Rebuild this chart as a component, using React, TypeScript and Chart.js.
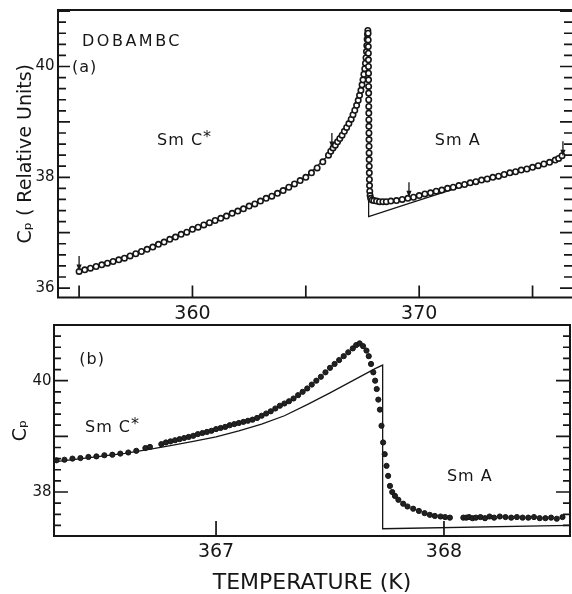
import React, { useEffect, useRef } from 'react';
import { Chart, registerables } from 'chart.js';

Chart.register(...registerables);

const FONT = "'DejaVu Sans', 'Noto Sans', sans-serif";
const INK = '#161616';

type Pt = [number, number];

// ---------- Panel (a): wide range ----------
const panelAData: Pt[] = [
  [355.0, 36.30], [355.25, 36.33], [355.5, 36.36], [355.75, 36.39], [356.0, 36.42], [356.25, 36.45], [356.5, 36.48], [356.75, 36.51],
  [357.0, 36.54], [357.25, 36.58], [357.5, 36.62], [357.75, 36.66], [358.0, 36.70], [358.25, 36.74], [358.5, 36.79], [358.75, 36.83],
  [359.0, 36.88], [359.25, 36.92], [359.5, 36.97], [359.75, 37.01], [360.0, 37.06], [360.25, 37.10], [360.5, 37.14], [360.75, 37.18],
  [361.0, 37.22], [361.25, 37.26], [361.5, 37.30], [361.75, 37.35], [362.0, 37.39], [362.25, 37.43], [362.5, 37.48], [362.75, 37.52],
  [363.0, 37.57], [363.25, 37.62], [363.5, 37.66], [363.75, 37.71], [364.0, 37.76], [364.25, 37.82], [364.5, 37.88], [364.75, 37.94],
  [365.0, 38.00], [365.25, 38.08], [365.5, 38.17], [365.75, 38.28], [366.0, 38.40], [366.1, 38.47], [366.2, 38.53], [366.3, 38.58],
  [366.4, 38.64], [366.5, 38.70], [366.6, 38.76], [366.7, 38.83], [366.8, 38.90], [366.9, 38.97], [367.0, 39.05], [367.08, 39.13],
  [367.16, 39.21], [367.24, 39.30], [367.31, 39.39], [367.37, 39.48], [367.43, 39.57], [367.48, 39.67], [367.52, 39.76], [367.56, 39.86],
  [367.6, 39.96], [367.63, 40.06], [367.655, 40.16], [367.675, 40.27], [367.69, 40.38], [367.705, 40.49], [367.72, 40.58], [367.735, 40.65],
  [367.748, 40.60], [367.752, 40.48], [367.756, 40.36], [367.759, 40.24], [367.762, 40.12], [367.764, 40.00], [367.766, 39.88], [367.768, 39.76],
  [367.77, 39.64], [367.772, 39.52], [367.774, 39.40], [367.776, 39.28], [367.778, 39.16], [367.78, 39.04], [367.782, 38.92], [367.784, 38.80],
  [367.786, 38.68], [367.788, 38.56], [367.79, 38.44], [367.793, 38.32], [367.796, 38.20], [367.8, 38.08], [367.804, 37.96], [367.81, 37.85],
  [367.82, 37.75], [367.835, 37.67], [367.86, 37.62], [367.92, 37.59], [368.0, 37.58], [368.12, 37.57], [368.25, 37.56], [368.4, 37.56],
  [368.55, 37.56], [368.75, 37.57], [369.0, 37.58], [369.25, 37.60], [369.5, 37.62], [369.75, 37.64], [370.0, 37.67], [370.25, 37.70],
  [370.5, 37.72], [370.75, 37.75], [371.0, 37.77], [371.25, 37.80], [371.5, 37.82], [371.75, 37.85], [372.0, 37.87], [372.25, 37.90],
  [372.5, 37.92], [372.75, 37.95], [373.0, 37.97], [373.25, 38.00], [373.5, 38.02], [373.75, 38.05], [374.0, 38.08], [374.25, 38.10],
  [374.5, 38.13], [374.75, 38.15], [375.0, 38.18], [375.25, 38.21], [375.5, 38.24], [375.75, 38.27], [376.0, 38.31], [376.15, 38.34],
  [376.3, 38.39],
];

const panelAFit: Pt[] = [
  [355.0, 36.30], [358.0, 36.70], [361.0, 37.22], [363.0, 37.57], [365.0, 38.00], [366.0, 38.40], [367.0, 39.05],
  [367.5, 39.72], [367.7, 40.40], [367.77, 40.55], [367.77, 37.29], [369.56, 37.53], [372.0, 37.85], [374.0, 38.06], [376.3, 38.37],
];

const panelAArrows: Pt[] = [[355.0, 36.31], [366.15, 38.53], [369.55, 37.64], [376.34, 38.38]];
const panelAXLabels = [360, 370];
const panelAYLabels = [36, 38, 40];
const panelANoteText = ['DOBAMBC', '(a)', 'Sm C', 'Sm A'];
const panelANoteSup = ['', '', '*', ''];
const panelANoteT = [355.13, 354.69, 358.44, 370.69];
const panelANoteCp = [40.48, 40.01, 38.68, 38.68];

// ---------- Panel (b): close-up ----------
const panelBData: Pt[] = [
  [366.300, 38.57], [366.335, 38.58], [366.370, 38.60], [366.405, 38.61], [366.440, 38.63], [366.475, 38.64], [366.510, 38.66],
  [366.545, 38.67], [366.580, 38.69], [366.615, 38.71], [366.650, 38.74], [366.690, 38.79], [366.710, 38.81], [366.760, 38.86],
  [366.780, 38.89], [366.800, 38.91], [366.820, 38.93], [366.840, 38.95], [366.860, 38.97], [366.880, 38.99], [366.900, 39.01],
  [366.920, 39.04], [366.940, 39.06], [366.960, 39.08], [366.980, 39.10], [367.000, 39.13], [367.020, 39.15], [367.040, 39.17],
  [367.060, 39.20], [367.080, 39.22], [367.100, 39.24], [367.120, 39.26], [367.140, 39.28], [367.160, 39.30], [367.180, 39.33],
  [367.200, 39.37], [367.220, 39.41], [367.240, 39.45], [367.260, 39.50], [367.280, 39.55], [367.300, 39.59], [367.320, 39.63],
  [367.340, 39.68], [367.360, 39.74], [367.380, 39.80], [367.400, 39.86], [367.420, 39.93], [367.440, 40.00], [367.460, 40.07],
  [367.480, 40.15], [367.500, 40.23], [367.520, 40.30], [367.540, 40.37], [367.560, 40.44], [367.580, 40.51], [367.600, 40.58],
  [367.615, 40.64], [367.630, 40.67], [367.645, 40.62], [367.660, 40.54], [367.670, 40.44], [367.680, 40.30], [367.690, 40.15],
  [367.698, 40.00], [367.705, 39.85], [367.712, 39.66], [367.719, 39.48], [367.726, 39.19], [367.733, 38.89], [367.740, 38.68],
  [367.748, 38.47], [367.755, 38.29], [367.763, 38.11], [367.773, 38.00], [367.785, 37.93], [367.800, 37.86], [367.821, 37.79],
  [367.840, 37.74], [367.865, 37.70], [367.890, 37.66], [367.915, 37.62], [367.938, 37.59], [367.960, 37.57], [367.985, 37.56],
  [368.005, 37.55], [368.026, 37.54],
  [368.085, 37.54], [368.098, 37.54], [368.110, 37.55], [368.125, 37.53], [368.140, 37.54], [368.160, 37.55], [368.180, 37.53],
  [368.200, 37.56], [368.220, 37.54], [368.245, 37.56], [368.270, 37.55], [368.295, 37.54], [368.320, 37.55], [368.345, 37.54],
  [368.370, 37.54], [368.395, 37.55], [368.420, 37.53], [368.445, 37.53], [368.470, 37.54], [368.495, 37.52], [368.520, 37.55],
];

const panelBFit: Pt[] = [
  [366.289, 38.54], [366.40, 38.595], [366.50, 38.645], [366.60, 38.695], [366.70, 38.76], [366.80, 38.835], [366.90, 38.91],
  [367.00, 38.99], [367.10, 39.10], [367.20, 39.22], [367.30, 39.37], [367.40, 39.57], [367.50, 39.78], [367.60, 40.00],
  [367.70, 40.22], [367.731, 40.28], [367.731, 37.34], [368.553, 37.40],
];

const panelBXLabels = [367, 368];
const panelBYLabels = [38, 40];
const panelBNoteText = ['(b)', 'Sm C', 'Sm A'];
const panelBNoteSup = ['', '*', ''];
const panelBNoteT = [366.40, 366.425, 368.013];
const panelBNoteCp = [40.41, 39.18, 38.30];

// ---------- helpers ----------
const toXY = (pts: Pt[]) => pts.map(([x, y]) => ({ x, y }));
const near = (list: number[], v: number) => list.some((l) => Math.abs(l - v) < 1e-6);
const isWhole = (v: number) => Math.abs(v - Math.round(v)) < 1e-6;

interface Note { text: string; sup: string; t: number; cp: number }
interface FrameCfg {
  rightBorder: boolean;
  yMajor: number;
  yMinor: number;
  xTick: number;
  arrows: Pt[];
  notes: Note[];
}

const makeNotes = (text: string[], sup: string[], t: number[], cp: number[]): Note[] =>
  text.map((s, i) => ({ text: s, sup: sup[i], t: t[i], cp: cp[i] }));

function framePlugin(cfg: FrameCfg) {
  return {
    id: 'frameAndNotes',
    afterDatasetsDraw(chart: any) {
      const { ctx, chartArea: a } = chart;
      const xs = chart.scales.x;
      const ys = chart.scales.y;
      ctx.save();
      ctx.strokeStyle = INK;
      ctx.fillStyle = INK;
      ctx.lineWidth = 2;
      ctx.beginPath();
      if (cfg.rightBorder) {
        ctx.rect(a.left, a.top, a.right - a.left, a.bottom - a.top);
      } else {
        ctx.moveTo(a.right + 3, a.top);
        ctx.lineTo(a.left, a.top);
        ctx.lineTo(a.left, a.bottom);
        ctx.lineTo(a.right + 3, a.bottom);
      }
      ctx.stroke();

      ctx.lineWidth = 1.7;
      ctx.beginPath();
      for (const t of ys.ticks) {
        const y = ys.getPixelForValue(t.value);
        const len = isWhole(t.value) ? cfg.yMajor : cfg.yMinor;
        ctx.moveTo(a.left, y);
        ctx.lineTo(a.left + len, y);
        ctx.moveTo(a.right, y);
        ctx.lineTo(a.right - len, y);
      }
      for (const t of xs.ticks) {
        const x = xs.getPixelForValue(t.value);
        ctx.moveTo(x, a.bottom);
        ctx.lineTo(x, a.bottom - cfg.xTick);
      }
      ctx.stroke();

      ctx.lineWidth = 1.3;
      for (const [t, cp] of cfg.arrows) {
        const x = xs.getPixelForValue(t);
        const y = ys.getPixelForValue(cp);
        ctx.beginPath();
        ctx.moveTo(x, y - 15);
        ctx.lineTo(x, y - 4);
        ctx.stroke();
        ctx.beginPath();
        ctx.moveTo(x - 2.6, y - 6.5);
        ctx.lineTo(x + 2.6, y - 6.5);
        ctx.lineTo(x, y);
        ctx.closePath();
        ctx.fill();
      }

      ctx.textAlign = 'left';
      ctx.textBaseline = 'alphabetic';
      for (const n of cfg.notes) {
        const x = xs.getPixelForValue(n.t);
        const y = ys.getPixelForValue(n.cp);
        ctx.font = `16px ${FONT}`;
        (ctx as any).letterSpacing = n.text === 'DOBAMBC' ? '2.5px' : '1px';
        const base = y + 5.8;
        ctx.fillText(n.text, x, base);
        if (n.sup) {
          const w = ctx.measureText(n.text).width;
          ctx.fillText(n.sup, x + w, base - 3);
        }
      }
      ctx.restore();
    },
  };
}

const TOP_H = 322;
const BOT_H = 272;

export default function App() {
  const topRef = useRef<HTMLCanvasElement | null>(null);
  const botRef = useRef<HTMLCanvasElement | null>(null);

  useEffect(() => {
    if (!topRef.current || !botRef.current) return;

    const tickFont = (size: number) => ({ family: FONT, size, lineHeight: 1 });

    const top = new Chart(topRef.current, {
      type: 'scatter',
      data: {
        datasets: [
          {
            label: 'Cp data',
            data: toXY(panelAData),
            showLine: false,
            pointRadius: 2.7,
            pointBorderWidth: 1.6,
            pointBorderColor: INK,
            pointBackgroundColor: '#ffffff',
            order: 1,
          },
          {
            label: 'fit',
            data: toXY(panelAFit),
            showLine: true,
            borderColor: INK,
            borderWidth: 1.3,
            pointRadius: 0,
            order: 2,
          },
        ],
      } as any,
      options: {
        responsive: false,
        animation: false,
        events: [],
        layout: { padding: { left: 0, top: 10, right: 0, bottom: 0 }, autoPadding: false } as any,
        plugins: { legend: { display: false }, tooltip: { enabled: false } },
        scales: {
          x: {
            type: 'linear',
            min: 354.07,
            max: 376.74,
            grid: { display: false, drawTicks: false },
            border: { display: false },
            ticks: {
              stepSize: 5,
              maxTicksLimit: 1000,
              includeBounds: false,
              autoSkip: false,
              maxRotation: 0,
              padding: 7.5,
              color: INK,
              font: tickFont(19),
              callback: (v: any) => (near(panelAXLabels, Number(v)) ? String(Math.round(Number(v))) : ''),
            },
            afterFit: (s: any) => {
              s.height = TOP_H - 297.5;
              s.paddingLeft = 0;
              s.paddingRight = 0;
            },
          },
          y: {
            type: 'linear',
            min: 35.83,
            max: 41.02,
            grid: { display: false, drawTicks: false },
            border: { display: false },
            ticks: {
              stepSize: 0.2,
              maxTicksLimit: 1000,
              includeBounds: false,
              autoSkip: false,
              padding: 3.5,
              color: INK,
              font: tickFont(15),
              callback: (v: any) => (near(panelAYLabels, Number(v)) ? String(Math.round(Number(v))) : ''),
            },
            title: {
              display: true,
              text: 'Cₚ ( Relative Units)',
              color: INK,
              font: { family: FONT, size: 19, lineHeight: 1 },
              padding: { top: 17, bottom: 0 },
            },
            afterFit: (s: any) => {
              s.width = 58;
              s.paddingTop = 0;
              s.paddingBottom = 0;
            },
          },
        },
      } as any,
      plugins: [
        framePlugin({
          rightBorder: false,
          yMajor: 12,
          yMinor: 8,
          xTick: 12,
          arrows: panelAArrows,
          notes: makeNotes(panelANoteText, panelANoteSup, panelANoteT, panelANoteCp),
        }),
      ],
    });

    const bot = new Chart(botRef.current, {
      type: 'scatter',
      data: {
        datasets: [
          {
            label: 'Cp data',
            data: toXY(panelBData),
            showLine: false,
            pointRadius: 2.6,
            pointBorderWidth: 1,
            pointBorderColor: INK,
            pointBackgroundColor: '#222222',
            order: 1,
          },
          {
            label: 'fit',
            data: toXY(panelBFit),
            showLine: true,
            borderColor: INK,
            borderWidth: 1.3,
            pointRadius: 0,
            order: 2,
          },
        ],
      } as any,
      options: {
        responsive: false,
        animation: false,
        events: [],
        layout: { padding: { left: 0, top: 3, right: 2, bottom: 0 }, autoPadding: false } as any,
        plugins: { legend: { display: false }, tooltip: { enabled: false } },
        scales: {
          x: {
            type: 'linear',
            min: 366.289,
            max: 368.553,
            grid: { display: false, drawTicks: false },
            border: { display: false },
            ticks: {
              stepSize: 1,
              maxTicksLimit: 1000,
              includeBounds: false,
              autoSkip: false,
              maxRotation: 0,
              padding: 7,
              color: INK,
              font: tickFont(19),
              callback: (v: any) => (near(panelBXLabels, Number(v)) ? String(Math.round(Number(v))) : ''),
            },
            title: {
              display: true,
              text: 'TEMPERATURE (K)',
              color: INK,
              font: { family: FONT, size: 22, lineHeight: 1 },
              padding: { top: 0, bottom: -0.5 },
            },
            afterFit: (s: any) => {
              s.height = BOT_H - 214;
              s.paddingLeft = 0;
              s.paddingRight = 0;
            },
          },
          y: {
            type: 'linear',
            min: 37.21,
            max: 41.0,
            grid: { display: false, drawTicks: false },
            border: { display: false },
            ticks: {
              stepSize: 0.2,
              maxTicksLimit: 1000,
              includeBounds: false,
              autoSkip: false,
              padding: 2.5,
              color: INK,
              font: tickFont(15),
              callback: (v: any) => (near(panelBYLabels, Number(v)) ? String(Math.round(Number(v))) : ''),
            },
            title: {
              display: true,
              text: 'Cₚ',
              color: INK,
              font: { family: FONT, size: 19, lineHeight: 1 },
              padding: { top: 12, bottom: 0 },
            },
            afterFit: (s: any) => {
              s.width = 54;
              s.paddingTop = 0;
              s.paddingBottom = 0;
            },
          },
        },
      } as any,
      plugins: [
        framePlugin({
          rightBorder: true,
          yMajor: 14,
          yMinor: 7,
          xTick: 15,
          arrows: [],
          notes: makeNotes(panelBNoteText, panelBNoteSup, panelBNoteT, panelBNoteCp),
        }),
      ],
    });

    return () => {
      top.destroy();
      bot.destroy();
    };
  }, []);

  return (
    <div style={{ position: 'absolute', left: 0, top: 0, width: 572, height: 594, background: '#ffffff' }}>
      <canvas
        ref={topRef}
        width={572}
        height={TOP_H}
        style={{ position: 'absolute', left: 0, top: 0, display: 'block' }}
      />
      <canvas
        ref={botRef}
        width={572}
        height={BOT_H}
        style={{ position: 'absolute', left: 0, top: TOP_H, display: 'block' }}
      />
    </div>
  );
}
